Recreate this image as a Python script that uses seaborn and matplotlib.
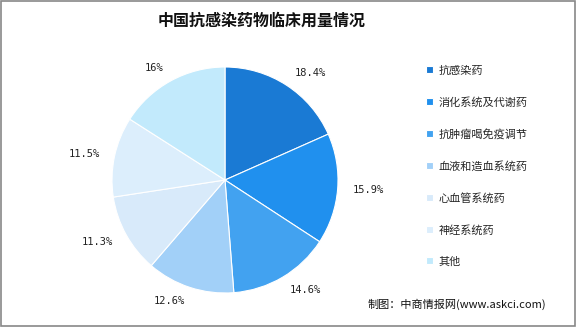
import matplotlib
matplotlib.use("Agg")
import matplotlib.pyplot as plt
import seaborn as sns
from matplotlib.patches import Rectangle

sns.set_theme(style="white")
plt.rcParams['font.family'] = ['Noto Sans CJK SC', 'DejaVu Sans']

categories = ["抗感染药", "消化系统及代谢药", "抗肿瘤喝免疫调节", "血液和造血系统药",
              "心血管系统药", "神经系统药", "其他"]
values = [18.4, 15.9, 14.6, 12.6, 11.3, 11.5, 16]
value_labels = ["18.4%", "15.9%", "14.6%", "12.6%", "11.3%", "11.5%", "16%"]
colors = ["#1A7AD4", "#2090EE", "#42A2F0", "#A2D0F8", "#D8EAFA", "#DCEEFC", "#C2EAFC"]
sns.set_palette(colors)

fig = plt.figure(figsize=(5.76, 3.27), dpi=100)
fig.patch.set_facecolor("white")
fig.add_artist(Rectangle((0.001, 0.002), 0.997, 0.995, transform=fig.transFigure,
                         fill=False, edgecolor="#888888", linewidth=1.2))

# pie axes: center (225,180) px, radius ~113 px
R = 113
cx, cy = 225, 180
half = 1.3
w_px = 2 * half * R
ax = fig.add_axes([(cx - w_px / 2) / 576, (327 - cy - w_px / 2) / 327, w_px / 576, w_px / 327])
wedges, texts = ax.pie(values, colors=colors, startangle=90, counterclock=False,
                       radius=1.0, labels=value_labels, labeldistance=1.13,
                       wedgeprops=dict(edgecolor="white", linewidth=0.8),
                       textprops=dict(fontsize=7.5, family=['DejaVu Sans Mono', 'DejaVu Sans'], color="#222222"))
ax.set_xlim(-half, half)
ax.set_ylim(-half, half)
ax.set_aspect("equal")
ax.axis("off")

fig.text(262 / 576, 1 - 21 / 327, "中国抗感染药物临床用量情况", ha="center", va="center",
         fontsize=11.5, fontweight="bold", color="#111111")

leg = fig.legend(wedges, categories, loc="upper left", bbox_to_anchor=(422 / 576, 1 - 61 / 327),
                 frameon=False, fontsize=8, handlelength=0.6, handleheight=0.6,
                 handletextpad=0.5, labelspacing=1.9, borderaxespad=0)

fig.text(368 / 576, 1 - 304 / 327, "制图：中商情报网(www.askci.com)", ha="left", va="center",
         fontsize=8, color="#111111")

fig.savefig("out.png", dpi=100, facecolor="white")
